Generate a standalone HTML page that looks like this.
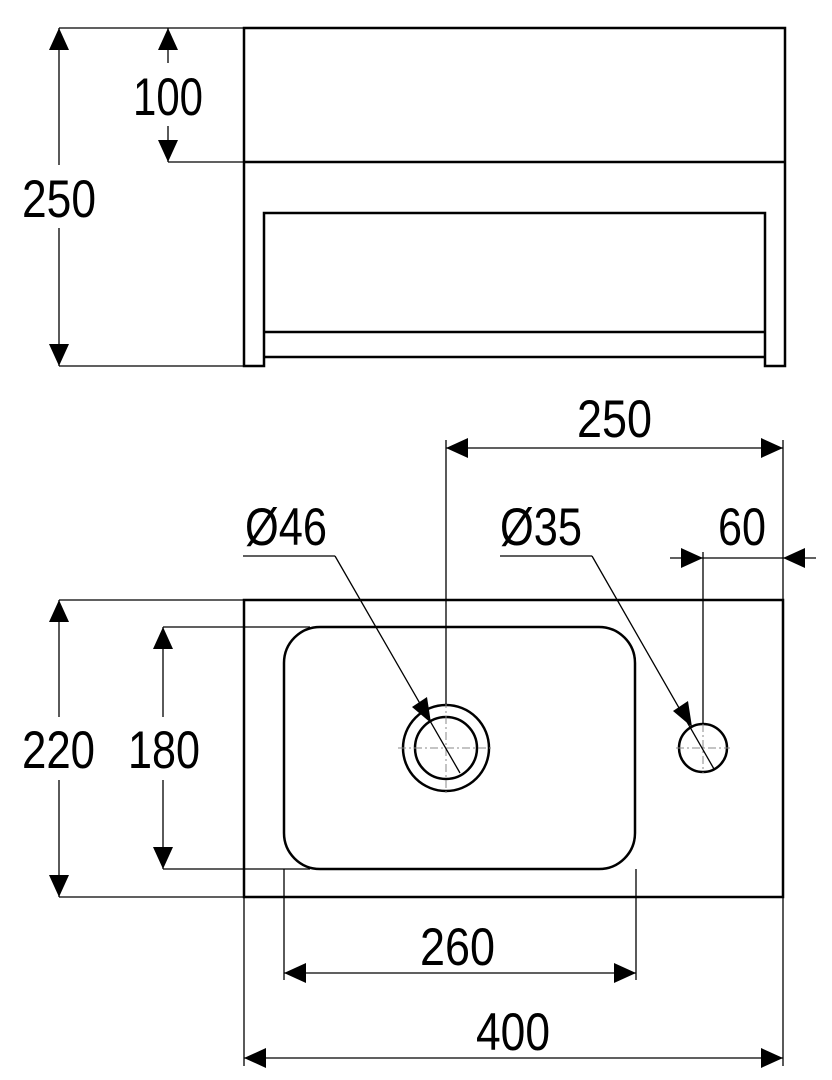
<!DOCTYPE html>
<html><head><meta charset="utf-8"><style>
html,body{margin:0;padding:0;background:#fff;}
svg{display:block;}
text{font-family:"Liberation Sans Narrow","Liberation Sans",sans-serif;font-size:53px;fill:#000;}
</style></head><body>
<svg width="832" height="1080" viewBox="0 0 832 1080" xmlns="http://www.w3.org/2000/svg">
<g fill="none" stroke="#000">
<!-- TOP VIEW -->
<g stroke-width="2.5">
<path d="M264,357 L264,366 L244,366 L244,28 L785,28 L785,366 L765,366 L765,357"/>
<line x1="244" y1="162" x2="785" y2="162"/>
<polyline points="264,357 264,213 765,213 765,357"/>
<line x1="264" y1="332" x2="765" y2="332"/>
<line x1="264" y1="357" x2="765" y2="357"/>
</g>
<g stroke-width="1.3">
<line x1="59" y1="28" x2="244" y2="28"/>
<line x1="59" y1="366" x2="244" y2="366"/>
<line x1="168" y1="162" x2="244" y2="162"/>
<line x1="59" y1="28" x2="59" y2="165"/>
<line x1="59" y1="228" x2="59" y2="366"/>
<line x1="168" y1="28" x2="168" y2="63"/>
<line x1="168" y1="126" x2="168" y2="162"/>
</g>
<!-- PLAN VIEW -->
<g stroke-width="2.5">
<rect x="244" y="600" width="539" height="297"/>
<rect x="284" y="627" width="351" height="242" rx="36" ry="36"/>
<circle cx="446" cy="748" r="43"/>
<circle cx="446" cy="748" r="31"/>
<circle cx="703" cy="748" r="24"/>
</g>
<g stroke-width="1" stroke="#888" stroke-dasharray="8,3,2,3">
<line x1="398" y1="748" x2="494" y2="748"/>
<line x1="446" y1="700" x2="446" y2="796"/>
<line x1="676" y1="748" x2="730" y2="748"/>
<line x1="703" y1="724" x2="703" y2="773"/>
</g>
<g stroke-width="1.3">
<line x1="446" y1="440" x2="446" y2="704"/>
<line x1="783" y1="440" x2="783" y2="600"/>
<line x1="446" y1="448" x2="783" y2="448"/>
<line x1="703" y1="552" x2="703" y2="724"/>
<line x1="670" y1="558" x2="816" y2="558"/>
<line x1="243" y1="556" x2="335" y2="556"/>
<line x1="335" y1="556" x2="460" y2="773"/>
<line x1="500" y1="556" x2="592" y2="556"/>
<line x1="592" y1="556" x2="714" y2="769"/>
<line x1="59" y1="600" x2="244" y2="600"/>
<line x1="59" y1="897" x2="244" y2="897"/>
<line x1="163" y1="627" x2="310" y2="627"/>
<line x1="163" y1="869" x2="310" y2="869"/>
<line x1="59" y1="600" x2="59" y2="717"/>
<line x1="59" y1="780" x2="59" y2="897"/>
<line x1="163" y1="627" x2="163" y2="717"/>
<line x1="163" y1="780" x2="163" y2="869"/>
<line x1="284" y1="869" x2="284" y2="980"/>
<line x1="636" y1="869" x2="636" y2="980"/>
<line x1="284" y1="973" x2="636" y2="973"/>
<line x1="244" y1="897" x2="244" y2="1066"/>
<line x1="783" y1="897" x2="783" y2="1066"/>
<line x1="244" y1="1058" x2="783" y2="1058"/>
</g>
</g>
<!-- arrowheads -->
<g fill="#000">
<polygon points="59,28 49,50 69,50"/>
<polygon points="59,366 49,344 69,344"/>
<polygon points="168,28 158,50 178,50"/>
<polygon points="168,162 158,140 178,140"/>
<polygon points="446,448 468,438 468,458"/>
<polygon points="783,448 761,438 761,458"/>
<polygon points="703,558 681,548 681,568"/>
<polygon points="783,558 805,548 805,568"/>
<polygon points="59,600 49,622 69,622"/>
<polygon points="59,897 49,875 69,875"/>
<polygon points="163,627 153,649 173,649"/>
<polygon points="163,869 153,847 173,847"/>
<polygon points="284,973 306,963 306,983"/>
<polygon points="636,973 614,963 614,983"/>
<polygon points="244,1058 266,1048 266,1068"/>
<polygon points="783,1058 761,1048 761,1068"/>
<polygon points="431,723 412,707 427,697"/>
<polygon points="692,727 673,711 688,701"/>
</g>
<g>
<text x="133" y="115" textLength="70" lengthAdjust="spacingAndGlyphs">100</text>
<text x="22" y="217" textLength="74" lengthAdjust="spacingAndGlyphs">250</text>
<text x="577" y="437" textLength="75" lengthAdjust="spacingAndGlyphs">250</text>
<text x="245" y="545" textLength="82" lengthAdjust="spacingAndGlyphs">Ø46</text>
<text x="500" y="545" textLength="82" lengthAdjust="spacingAndGlyphs">Ø35</text>
<text x="718" y="545" textLength="48" lengthAdjust="spacingAndGlyphs">60</text>
<text x="22" y="768" textLength="73" lengthAdjust="spacingAndGlyphs">220</text>
<text x="128" y="768" textLength="72" lengthAdjust="spacingAndGlyphs">180</text>
<text x="420" y="965" textLength="75" lengthAdjust="spacingAndGlyphs">260</text>
<text x="476" y="1050" textLength="74" lengthAdjust="spacingAndGlyphs">400</text>
</g>
</svg>
</body></html>
